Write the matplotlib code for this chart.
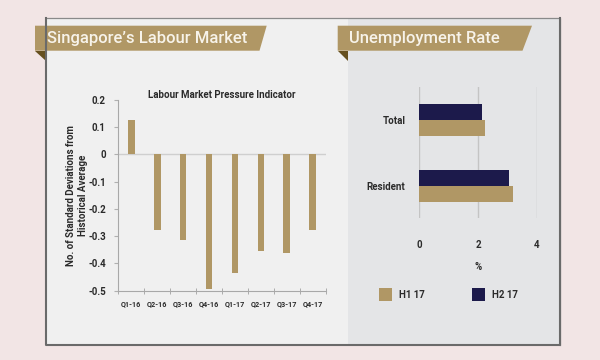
import matplotlib.pyplot as plt
from matplotlib.patches import Rectangle, Polygon
import numpy as np

#====================================
# Data

quarters = ["Q1-16", "Q2-16", "Q3-16", "Q4-16", "Q1-17", "Q2-17", "Q3-17", "Q4-17"]
pressure = [0.127, -0.276, -0.314, -0.493, -0.434, -0.353, -0.36, -0.276]

groups = ["Total", "Resident"]
h1_17 = [2.23, 3.19]
h2_17 = [2.15, 3.05]
series_names = ["H1 17", "H2 17"]

#====================================
# Style

GOLD = "#b09765"
NAVY = "#1c1a4b"
FOLD = "#66501f"
PINK = "#f2e5e5"
LEFTBG = "#f0f0f0"
RIGHTBG = "#e4e5e7"
TXT = "#2b2b2b"
WGT = "bold"

plt.rcParams['font.family'] = ['Roboto', 'DejaVu Sans']

W, H = 600, 360
fig = plt.figure(figsize=(6, 3.6), dpi=100)
fig.patch.set_facecolor(PINK)

def fx(px):
    return px / W

def fy(py):
    return 1 - py / H

# background drawing in pixel coordinates
bg = fig.add_axes([0, 0, 1, 1], zorder=0)
bg.set_xlim(0, W)
bg.set_ylim(H, 0)
bg.axis("off")

bg.add_patch(Rectangle((45.5, 18), 302, 326.5, facecolor=LEFTBG, edgecolor="none"))
bg.add_patch(Rectangle((347.5, 18), 212.5, 326.5, facecolor=RIGHTBG, edgecolor="none"))
# box border (shadow heavier on bottom/right)
bg.plot([45.5, 560, 560], [18, 18, 344.5], color="#8a8a8a", lw=0.9)
bg.plot([45.5, 45.5, 560, 560], [18, 344.5, 344.5, 18], color="#6a6a6a", lw=1.5)

# banners
def banner(x0, x_tr, x_br, x_fold, text):
    bg.add_patch(Polygon([(x0, 50.7), (x_fold, 50.7), (x_fold, 61)], closed=True,
                         facecolor=FOLD, edgecolor="none"))
    bg.add_patch(Polygon([(x0, 25.7), (x_tr, 25.7), (x_br, 50.7), (x0, 50.7)], closed=True,
                         facecolor=GOLD, edgecolor="none"))
    bg.text(x_fold + 1.5, 39, text, color="#f7f3ea", fontsize=12, fontweight="medium",
            va="center", ha="left")

banner(35, 266.7, 259.5, 45.5, "Singapore\u2019s Labour Market")
banner(337.7, 532, 522.5, 347.5, "Unemployment Rate")

#====================================
# Left chart

ax1 = fig.add_axes([fx(118.3), fy(290.7), fx(325.7) - fx(118.3), fy(100) - fy(290.7)], zorder=2)
ax1.patch.set_alpha(0)
x = np.arange(len(quarters))
ax1.bar(x, pressure, width=0.26, color=GOLD, zorder=3)
ax1.axhline(0, color="#cfcfcf", lw=1, zorder=1)
ax1.set_xlim(-0.5, len(quarters) - 0.5)
ax1.set_ylim(-0.5, 0.2)
ax1.set_yticks([0.2, 0.1, 0, -0.1, -0.2, -0.3, -0.4, -0.5])
ax1.set_yticklabels(["0.2", "0.1", "0", "-0.1", "-0.2", "-0.3", "-0.4", "-0.5"])
ax1.set_xticks(x)
ax1.set_xticklabels(quarters)
ax1.set_xticks(np.arange(-0.5, len(quarters)), minor=True)
ax1.tick_params(axis="x", which="major", length=0, pad=7, labelsize=5.2, labelcolor=TXT)
ax1.tick_params(axis="x", which="minor", length=4, direction="inout", color="#a0a0a0")
ax1.tick_params(axis="y", length=3, color="#b0b0b0", labelsize=7, labelcolor=TXT, pad=6)
for lab in ax1.get_xticklabels() + ax1.get_yticklabels():
    lab.set_fontweight(WGT)
for s in ["top", "right"]:
    ax1.spines[s].set_visible(False)
for s in ["left", "bottom"]:
    ax1.spines[s].set_color("#a8a8a8")
ax1.set_title("Labour Market Pressure Indicator", fontsize=7, fontweight=WGT, color=TXT, pad=0,
              x=0.5)
ax1.set_ylabel("No. of Standard Deviations from\nHistorical Average", fontsize=7,
               fontweight=WGT, color=TXT, linespacing=1.15, va="center")
ax1.yaxis.set_label_coords(-0.199, 0.5)

#====================================
# Right chart

ax2 = fig.add_axes([fx(419.3), fy(218), fx(536.7) - fx(419.3), fy(86.7) - fy(218)], zorder=2)
ax2.patch.set_alpha(0)
y = np.arange(len(groups))
b2 = ax2.barh(y - 0.12, h2_17, height=0.24, color=NAVY, zorder=3, label=series_names[1])
b1 = ax2.barh(y + 0.12, h1_17, height=0.24, color=GOLD, zorder=3, label=series_names[0])
ax2.set_xlim(0, 4)
ax2.set_ylim(1.48, -0.5)
ax2.set_xticks([0, 2, 4])
ax2.set_xticklabels(["0", "2", "4"])
ax2.set_yticks(y)
ax2.set_yticklabels(groups)
ax2.grid(axis="x", color="#c4c4c4", lw=1, zorder=0)
ax2.tick_params(axis="x", length=0, pad=16, labelsize=7, labelcolor=TXT)
ax2.tick_params(axis="y", length=0, pad=10, labelsize=7, labelcolor=TXT)
for lab in ax2.get_xticklabels() + ax2.get_yticklabels():
    lab.set_fontweight(WGT)
for s in ax2.spines.values():
    s.set_visible(False)
fig.text(fx(478), fy(266.7), "%", fontsize=7, fontweight=WGT, color=TXT, ha="center", va="center")

# legend
for (lx, name, col) in [(379, series_names[0], GOLD), (471.7, series_names[1], NAVY)]:
    bg.add_patch(Rectangle((lx, 288.3), 13, 12.4, facecolor=col, edgecolor="none"))
    bg.text(lx + 20, 294.5, name, fontsize=7, fontweight=WGT, color=TXT, va="center", ha="left")

fig.savefig("out.png", dpi=100, facecolor=PINK)
